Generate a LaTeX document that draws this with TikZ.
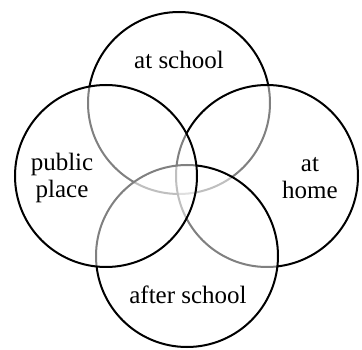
\documentclass[tikz,border=0pt]{standalone}
\usepackage{fontspec}
\setmainfont{Liberation Serif}
\usetikzlibrary{positioning}
\tikzset{
  ring/.style={draw=black,circle,line width=2pt,fill=white,fill opacity=0.5,
               minimum size=182pt,inner sep=0pt},
  lab/.style={align=center,font=\fontsize{25}{27}\selectfont,inner sep=0pt},
}
\begin{document}
\begin{tikzpicture}[x=1pt,y=-1pt]
    \useasboundingbox (0,0) rectangle (362,350);
    % circles, later ones lighten the lines of earlier ones
    \node[ring] (school) at (179,103) {};
    \node[ring] (home) at (267,176) {};
    \node[ring] (after) at (187,256) {};
    \node[ring] (public) at (106,176) {};
    \node[lab] (tschool) at (179,60) {at school};
    \node[lab] (thome) at (310,178) {at\\home};
    \node[lab] (tafter) at (188,295) {after school};
    \node[lab] (tpublic) at (62,178) {public\\place};
  \end{tikzpicture}
\end{document}
